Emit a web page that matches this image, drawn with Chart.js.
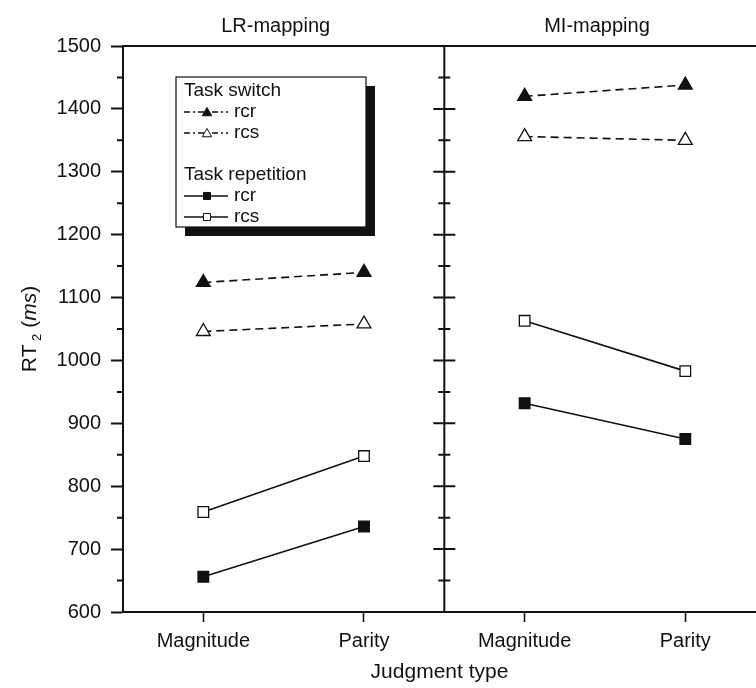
<!DOCTYPE html>
<html>
<head>
<meta charset="utf-8">
<script src="https://cdn.jsdelivr.net/npm/chart.js@4/dist/chart.umd.min.js"></script>
<style>
  html, body { margin: 0; padding: 0; background: #fff; overflow: hidden; }
  #wrap { width: 756px; height: 688px; }
</style>
</head>
<body>
<div id="wrap"><canvas id="rtChart" width="756" height="688"></canvas></div>
<script>
// values
const categories = ['Magnitude', 'Parity', 'Magnitude', 'Parity'];
const panels = ['LR-mapping', 'MI-mapping'];
const switchRcr = [1124, 1140, 1420, 1438];
const switchRcs = [1046, 1058, 1356, 1350];
const repRcr = [656, 736, 932, 875];
const repRcs = [759, 848, 1063, 983];
const yMin = 600, yMax = 1500, yStep = 100;

const ink = '#111';
const fontFam = '"Liberation Sans", Arial, Helvetica, sans-serif';

// one x position per category, with a break between the two panels
function series(vals) {
  const pts = [];
  vals.forEach((v, i) => {
    if (i === categories.length / 2) pts.push({ x: i, y: null });
    pts.push({ x: i + 0.5, y: v });
  });
  return pts;
}

const datasets = [
  { label: 'Task switch rcr', data: series(switchRcr), borderDash: [8, 5], pointStyle: 'triangle',
    pointRadius: 8, pointBackgroundColor: ink, filled: true },
  { label: 'Task switch rcs', data: series(switchRcs), borderDash: [8, 5], pointStyle: 'triangle',
    pointRadius: 8, pointBackgroundColor: '#fff', filled: false },
  { label: 'Task repetition rcr', data: series(repRcr), borderDash: [], pointStyle: 'rect',
    pointRadius: 7.5, pointBackgroundColor: ink, filled: true },
  { label: 'Task repetition rcs', data: series(repRcs), borderDash: [], pointStyle: 'rect',
    pointRadius: 7.5, pointBackgroundColor: '#fff', filled: false }
].map(d => Object.assign({
  borderColor: ink, borderWidth: 1.6, pointBorderColor: ink, pointBorderWidth: 1.3,
  pointHoverRadius: d.pointRadius, spanGaps: false, tension: 0
}, d));

function marker(ctx, style, x, y, r, filled) {
  ctx.save();
  ctx.setLineDash([]);
  ctx.beginPath();
  if (style === 'triangle') {
    ctx.moveTo(x, y - r);
    ctx.lineTo(x + r * 0.866, y + r * 0.5);
    ctx.lineTo(x - r * 0.866, y + r * 0.5);
    ctx.closePath();
  } else {
    const s = r * 0.7071;
    ctx.rect(x - s, y - s, 2 * s, 2 * s);
  }
  ctx.fillStyle = filled ? ink : '#fff';
  ctx.fill();
  ctx.lineWidth = 1;
  ctx.strokeStyle = ink;
  ctx.stroke();
  ctx.restore();
}

const framePlugin = {
  id: 'frame',
  afterDraw(chart) {
    const { ctx, chartArea: a, scales: { x, y } } = chart;
    const midX = x.getPixelForValue(categories.length / 2);
    ctx.save();
    ctx.strokeStyle = ink;
    ctx.lineWidth = 2;
    ctx.beginPath();
    ctx.moveTo(a.left - 1, a.top); ctx.lineTo(a.right, a.top);
    ctx.moveTo(midX, a.top); ctx.lineTo(midX, a.bottom);
    ctx.stroke();

    // ticks on the panel divider and minor ticks on the left axis
    ctx.beginPath();
    y.ticks.forEach((t, i) => {
      const py = y.getPixelForValue(t.value);
      ctx.moveTo(midX - 11, py); ctx.lineTo(midX + 11, py);
      if (i > 0) {
        const my = y.getPixelForValue(t.value - yStep / 2);
        ctx.moveTo(midX - 6, my); ctx.lineTo(midX + 6, my);
        ctx.moveTo(a.left - 6, my); ctx.lineTo(a.left, my);
      }
    });
    ctx.stroke();

    // panel titles
    ctx.fillStyle = ink;
    ctx.font = '20px ' + fontFam;
    ctx.textAlign = 'center';
    ctx.textBaseline = 'middle';
    panels.forEach((p, i) => {
      const cx = (x.getPixelForValue(2 * i + 0.5) + x.getPixelForValue(2 * i + 1.5)) / 2;
      ctx.fillText(p, cx - 8, a.top - 20);
    });

    // y-axis title: RT2 (ms)
    ctx.save();
    ctx.translate(29, (a.top + a.bottom) / 2);
    ctx.rotate(-Math.PI / 2);
    ctx.textAlign = 'left';
    ctx.textBaseline = 'alphabetic';
    const parts = [
      { t: 'RT', f: '21px ' + fontFam, dy: 0 },
      { t: ' 2', f: '13px ' + fontFam, dy: 5 },
      { t: ' (', f: '21px ' + fontFam, dy: 0 },
      { t: 'ms', f: 'italic 21px ' + fontFam, dy: 0 },
      { t: ')', f: '21px ' + fontFam, dy: 0 }
    ];
    let total = 0;
    parts.forEach(p => { ctx.font = p.f; p.w = ctx.measureText(p.t).width; total += p.w; });
    let px = -total / 2;
    parts.forEach(p => { ctx.font = p.f; ctx.fillText(p.t, px, 7 + p.dy); px += p.w; });
    ctx.restore();

    // legend box with drop shadow
    const L = a.left + 53, T = a.top + 31, W = 190, H = 150, sh = 9;
    ctx.fillStyle = ink;
    ctx.fillRect(L + sh, T + sh, W, H);
    ctx.fillStyle = '#fff';
    ctx.fillRect(L, T, W, H);
    ctx.lineWidth = 1.2;
    ctx.strokeStyle = ink;
    ctx.strokeRect(L, T, W, H);

    const groups = [
      { head: 'Task switch', sets: [0, 1], dash: [6, 3, 2, 3] },
      { head: 'Task repetition', sets: [2, 3], dash: [] }
    ];
    ctx.font = '19px ' + fontFam;
    ctx.textAlign = 'left';
    ctx.textBaseline = 'middle';
    let ry = T + 14;
    groups.forEach((g, gi) => {
      ctx.fillStyle = ink;
      ctx.fillText(g.head, L + 8, ry);
      g.sets.forEach(si => {
        ry += 21;
        const d = datasets[si];
        ctx.save();
        ctx.setLineDash(g.dash);
        ctx.lineWidth = 1.3;
        ctx.beginPath();
        ctx.moveTo(L + 8, ry); ctx.lineTo(L + 52, ry);
        ctx.stroke();
        ctx.restore();
        marker(ctx, d.pointStyle, L + 31, ry + (d.pointStyle === 'triangle' ? 1 : 0), d.pointStyle === 'triangle' ? 5.5 : 5, d.filled);
        ctx.fillStyle = ink;
        ctx.fillText(d.label.split(' ').pop(), L + 58, ry);
      });
      ry += gi === 0 ? 42 : 0;
    });
    ctx.restore();
  }
};

new Chart(document.getElementById('rtChart'), {
  type: 'line',
  data: { datasets },
  options: {
    responsive: false,
    animation: false,
    devicePixelRatio: 1,
    layout: { autoPadding: false, padding: { top: 46, right: 0, left: 0, bottom: 0 } },
    plugins: { legend: { display: false }, tooltip: { enabled: false } },
    scales: {
      x: {
        type: 'linear',
        min: 0,
        max: 3.94,
        afterBuildTicks: s => { s.ticks = categories.map((_, i) => ({ value: i + 0.5 })); },
        afterFit: s => { s.height = 76; s.paddingLeft = 0; s.paddingRight = 0; },
        ticks: {
          autoSkip: false, maxRotation: 0, padding: 7, color: ink,
          font: { family: fontFam, size: 20 },
          callback: (v, i) => categories[i]
        },
        grid: { drawOnChartArea: false, drawTicks: true, tickLength: 10, tickWidth: 1.6, tickColor: ink },
        border: { display: true, color: ink, width: 2 },
        title: {
          display: true, text: 'Judgment type', color: ink,
          font: { family: fontFam, size: 21 }, padding: { top: 2, bottom: 3 }
        }
      },
      y: {
        min: yMin,
        max: yMax,
        afterFit: s => { s.width = 123; s.paddingTop = 0; s.paddingBottom = 0; },
        ticks: {
          stepSize: yStep, padding: 10, color: ink, font: { family: fontFam, size: 20 },
          callback: v => String(v)
        },
        grid: { drawOnChartArea: false, drawTicks: true, tickLength: 12, tickWidth: 2, tickColor: ink },
        border: { display: true, color: ink, width: 2 }
      }
    }
  },
  plugins: [framePlugin]
});
</script>
</body>
</html>
